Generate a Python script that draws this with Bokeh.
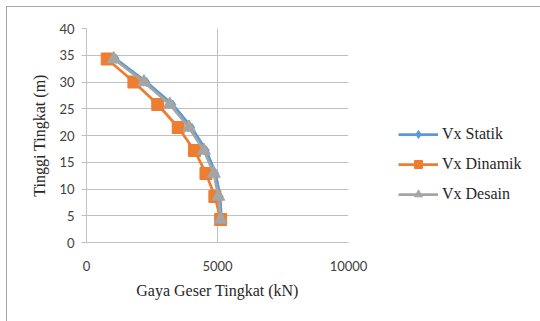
from bokeh.plotting import figure
from bokeh.models import Range1d, Legend, LegendItem, FixedTicker, ColumnDataSource
from bokeh.embed import file_html
from bokeh.resources import INLINE

heights = [34.3, 30.0, 25.8, 21.5, 17.2, 12.9, 8.6, 4.3]
vx_statik = [1130, 2290, 3290, 4010, 4570, 4930, 5100, 5150]
vx_dinamik = [790, 1810, 2720, 3500, 4120, 4560, 4900, 5120]
vx_desain = [1040, 2190, 3180, 3910, 4480, 4860, 5030, 5120]
x_ticks = [0, 5000, 10000]
y_ticks = [0, 5, 10, 15, 20, 25, 30, 35, 40]

SERIF = "Liberation Serif"
SANS = "Lato"
GRID = "#c0c0c0"

p = figure(frame_width=262, frame_height=214, output_backend="svg", toolbar_location=None,
           x_range=Range1d(0, 10000), y_range=Range1d(0, 40),
           min_border_left=79, min_border_right=192, min_border_top=21, min_border_bottom=79)
p.styles = {"margin-left": "6px", "margin-top": "6px",
            "border-top": "1px solid #a6a6a6", "border-left": "1px solid #a6a6a6"}
p.outline_line_color = None
p.background_fill_color = "white"
p.border_fill_color = "white"

p.xaxis.ticker = FixedTicker(ticks=x_ticks)
p.yaxis.ticker = FixedTicker(ticks=y_ticks)
p.xgrid.ticker = FixedTicker(ticks=x_ticks)
p.ygrid.ticker = FixedTicker(ticks=y_ticks)
p.grid.grid_line_color = GRID
p.grid.grid_line_width = 1

for ax in (p.xaxis[0], p.yaxis[0]):
    ax.axis_line_color = GRID
    ax.major_tick_line_color = GRID
    ax.minor_tick_line_color = None
    ax.major_tick_in = 0
    ax.major_tick_out = 5
    ax.major_label_text_font = SANS
    ax.major_label_text_font_size = "13px"
    ax.major_label_text_color = "#404040"
    ax.axis_label_text_font = SERIF
    ax.axis_label_text_font_size = "16px"
    ax.axis_label_text_font_style = "normal"
    ax.axis_label_text_color = "#262626"

p.xaxis.axis_label = "Gaya Geser Tingkat (kN)"
p.yaxis.axis_label = "Tinggi Tingkat (m)"
p.xaxis.major_label_standoff = 18
p.xaxis.axis_label_standoff = 8
p.yaxis.major_label_standoff = 7
p.yaxis.axis_label_standoff = 8
p.xaxis.major_tick_out = 0

src = ColumnDataSource(dict(h=heights, s=vx_statik, d=vx_dinamik, g=vx_desain))

BLUE, ORANGE, GRAY = "#5B9BD5", "#ED7D31", "#A5A5A5"
l1 = p.line("s", "h", source=src, line_color=BLUE, line_width=2.75)
m1 = p.scatter("s", "h", source=src, marker="diamond", size=9, color=BLUE)
l2 = p.line("d", "h", source=src, line_color=ORANGE, line_width=2.75)
m2 = p.scatter("d", "h", source=src, marker="square", size=12, color=ORANGE)
l3 = p.line("g", "h", source=src, line_color=GRAY, line_width=2.75)
m3 = p.scatter("g", "h", source=src, marker="triangle", size=13, color=GRAY)

legend = Legend(items=[
    LegendItem(label="Vx Statik", renderers=[l1, m1]),
    LegendItem(label="Vx Dinamik", renderers=[l2, m2]),
    LegendItem(label="Vx Desain", renderers=[l3, m3]),
], location=(50, 38))
legend.padding = 0
legend.margin = 0
legend.spacing = 10
legend.glyph_width = 40
legend.glyph_height = 20
legend.label_height = 20
legend.label_standoff = 4
legend.border_line_color = None
legend.background_fill_alpha = 0
legend.label_text_font = SERIF
legend.label_text_font_size = "16px"
legend.label_text_color = "#262626"
p.add_layout(legend, "right")

open("out.html", "w").write(file_html(p, INLINE))
